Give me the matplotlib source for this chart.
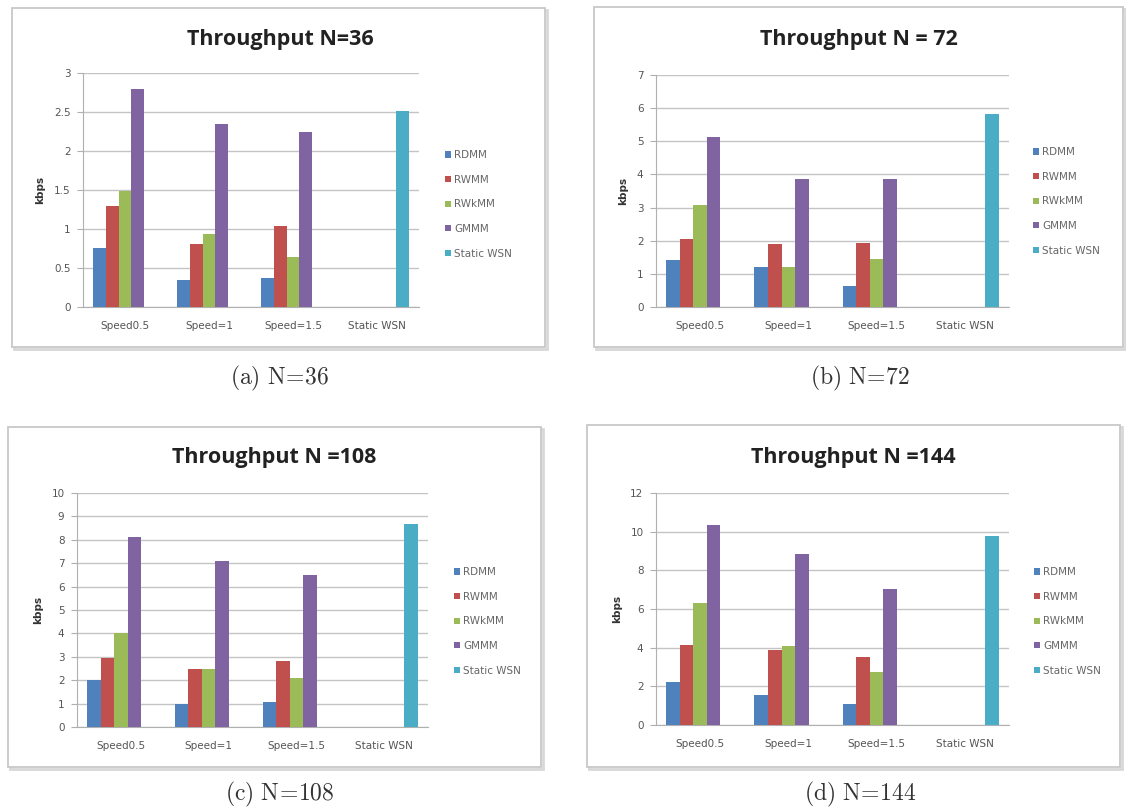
import numpy as np
import matplotlib
matplotlib.use("Agg")
import matplotlib.pyplot as plt
from matplotlib.patches import Rectangle

plt.rcParams['mathtext.fontset'] = 'cm'

categories = ["Speed0.5", "Speed=1", "Speed=1.5", "Static WSN"]
series = ["RDMM", "RWMM", "RWkMM", "GMMM", "Static WSN"]
colors = ["#4F81BD", "#C0504D", "#9BBB59", "#8064A2", "#4BACC6"]

# throughput (kbps) per series, one value per category
n36 = {
    "RDMM": [0.76, 0.34, 0.37, 0],
    "RWMM": [1.30, 0.81, 1.04, 0],
    "RWkMM": [1.49, 0.94, 0.64, 0],
    "GMMM": [2.79, 2.34, 2.25, 0],
    "Static WSN": [0, 0, 0, 2.51],
}
n72 = {
    "RDMM": [1.41, 1.21, 0.62, 0],
    "RWMM": [2.04, 1.90, 1.94, 0],
    "RWkMM": [3.09, 1.21, 1.45, 0],
    "GMMM": [5.12, 3.86, 3.86, 0],
    "Static WSN": [0, 0, 0, 5.82],
}
n108 = {
    "RDMM": [2.00, 0.97, 1.07, 0],
    "RWMM": [2.95, 2.50, 2.83, 0],
    "RWkMM": [4.00, 2.50, 2.10, 0],
    "GMMM": [8.12, 7.08, 6.48, 0],
    "Static WSN": [0, 0, 0, 8.68],
}
n144 = {
    "RDMM": [2.20, 1.56, 1.10, 0],
    "RWMM": [4.15, 3.86, 3.52, 0],
    "RWkMM": [6.30, 4.10, 2.72, 0],
    "GMMM": [10.35, 8.85, 7.03, 0],
    "Static WSN": [0, 0, 0, 9.78],
}

yticks_36 = [0, 0.5, 1, 1.5, 2, 2.5, 3]
yticks_72 = [0, 1, 2, 3, 4, 5, 6, 7]
yticks_108 = list(range(0, 11))
yticks_144 = [0, 2, 4, 6, 8, 10, 12]

W, H = 1126, 809
fig = plt.figure(figsize=(W / 100, H / 100), dpi=100)


def fx(px):
    return px / W


def fy(py):
    return 1 - py / H


def cap(letter, n):
    return r"$\mathrm{(%s)\ N}\!=\!\mathrm{%d}$" % (letter, n)


panels = [
    # data, ticks, title, caption, box(l,t,r,b), axes(l,t,r,b), title xy, legend xy, caption xy
    (n36, yticks_36, "Throughput N=36", cap("a", 36),
     (12, 8, 545, 347), (83, 73, 419, 307), (280, 40), (440, 145), (280, 378)),
    (n72, yticks_72, "Throughput N = 72", cap("b", 72),
     (594, 7, 1123, 347), (656, 75, 1009, 307), (859, 40), (1028, 142), (860, 378)),
    (n108, yticks_108, "Throughput N =108", cap("c", 108),
     (8, 427, 541, 767), (77, 493, 428, 727), (274, 458), (449, 562), (280, 794)),
    (n144, yticks_144, "Throughput N =144", cap("d", 144),
     (587, 425, 1120, 767), (656, 493, 1009, 725), (853, 458), (1029, 562), (860, 794)),
]

bw = 1 / 6.5
x = np.arange(len(categories))

for data, yt, title, caption, box, axr, tpos, lpos, cpos in panels:
    # chart frame with a faint drop shadow, kept behind the axes
    bl, bt, br, bb = box
    fig.patches.append(Rectangle((fx(bl + 2), fy(bb + 2)), fx(br - bl), (bb - bt) / H,
                                 transform=fig.transFigure, facecolor="none",
                                 edgecolor="#d8d8d8", lw=2.0, zorder=-3))
    fig.patches.append(Rectangle((fx(bl), fy(bb)), fx(br - bl), (bb - bt) / H,
                                 transform=fig.transFigure, facecolor="white",
                                 edgecolor="#c8c8c8", lw=1.3, zorder=-2))

    al, at, ar, ab = axr
    ax = fig.add_axes([fx(al), fy(ab), fx(ar - al), (ab - at) / H])
    ax.set_zorder(1)
    ax.set_facecolor("none")
    for i, s in enumerate(series):
        ax.bar(x + (i - 2) * bw, data[s], width=bw, color=colors[i], label=s, zorder=3)

    ax.set_xlim(-0.5, len(categories) - 0.5)
    ax.set_ylim(yt[0], yt[-1])
    ax.set_yticks(yt)
    ax.set_yticklabels([f"{v:g}" for v in yt], fontsize=7.5, color="#555555")
    ax.set_xticks(x)
    ax.set_xticklabels(categories, fontsize=7.5, color="#555555")
    ax.tick_params(axis="x", length=0, pad=10)
    ax.tick_params(axis="y", length=4, width=0.8, color="#b0b0b0", pad=5)
    ax.yaxis.grid(True, color="#c4c4c4", lw=1.0, zorder=0)
    for side in ("top", "right"):
        ax.spines[side].set_visible(False)
    ax.spines["left"].set_color("#b0b0b0")
    ax.spines["bottom"].set_color("#b0b0b0")
    ax.set_ylabel("kbps", fontsize=7.5, fontweight="bold", color="#333333", labelpad=6)

    fig.text(fx(tpos[0]), fy(tpos[1]), title, ha="center", va="center",
             fontsize=15.5, fontweight="bold", family="Open Sans", color="#222222")
    fig.text(fx(cpos[0]), fy(cpos[1]), caption, ha="center", va="center",
             fontsize=17, color="#333333")

    ax.legend(loc="upper left", bbox_to_anchor=(fx(lpos[0]), fy(lpos[1])),
              bbox_transform=fig.transFigure, frameon=False, fontsize=7.5,
              labelcolor="#666666", handlelength=0.55, handleheight=0.55,
              handletextpad=0.3, labelspacing=1.4, borderpad=0)

fig.savefig("out.png", dpi=100)
